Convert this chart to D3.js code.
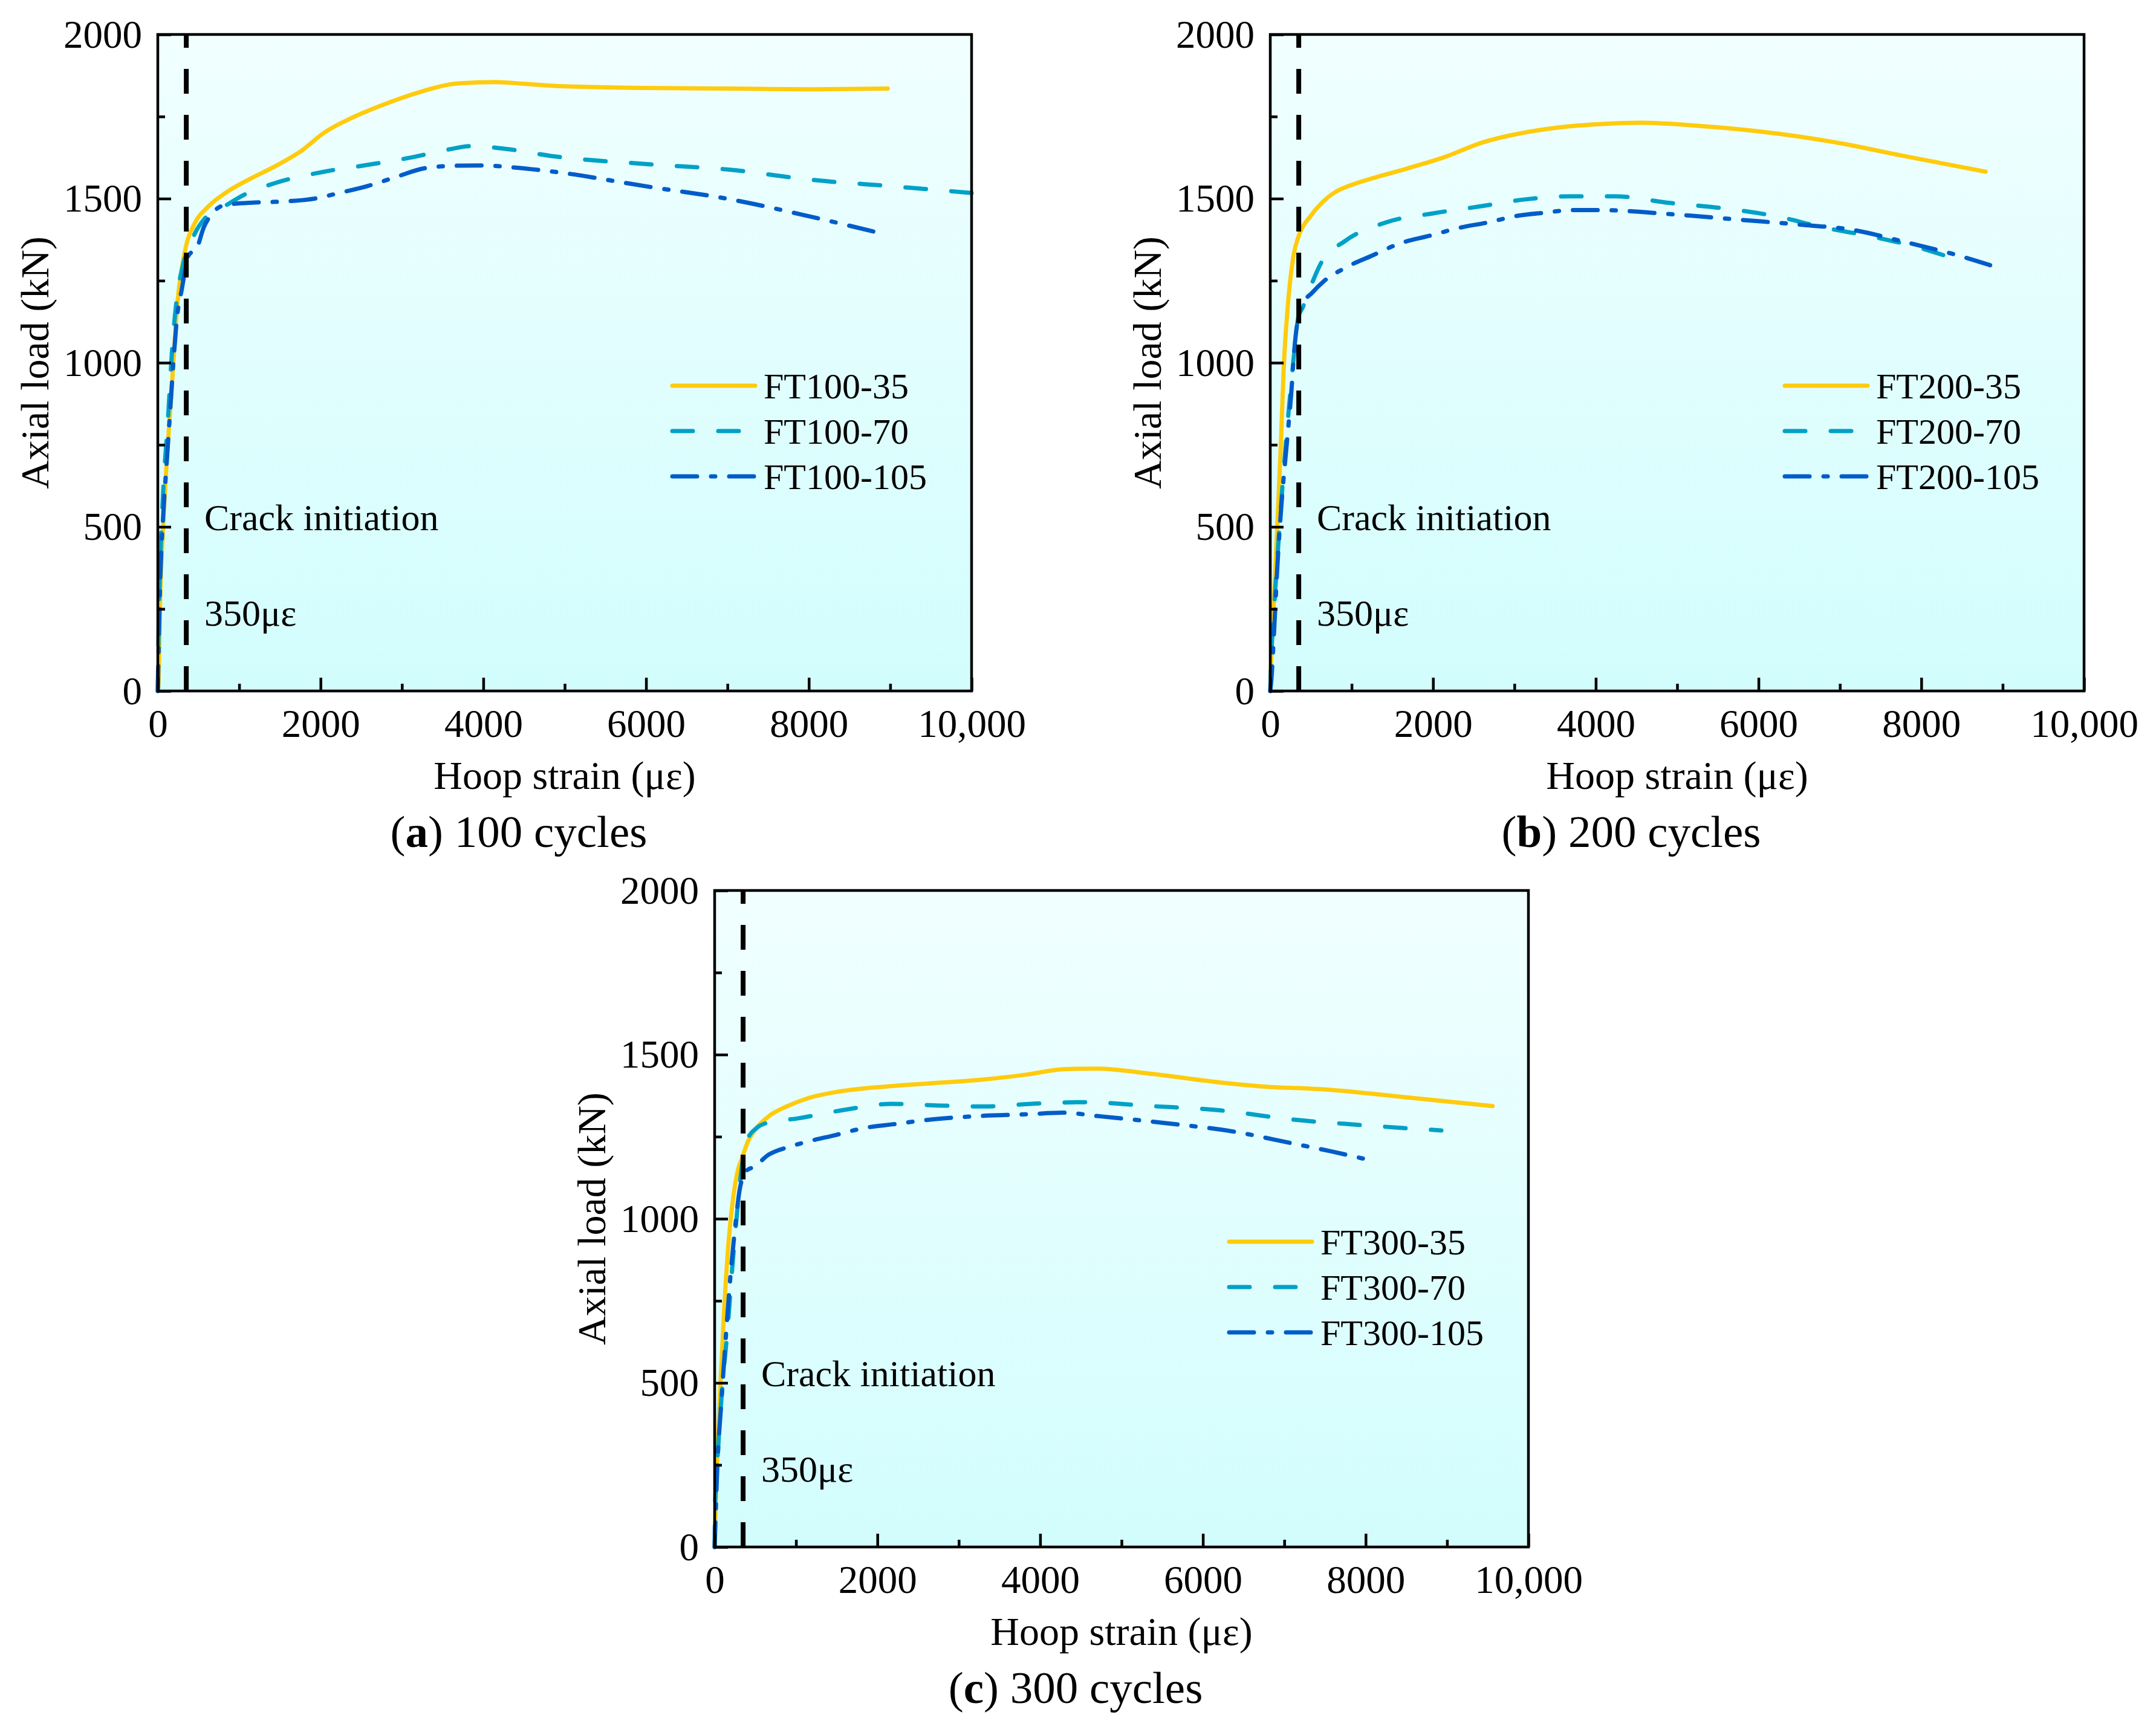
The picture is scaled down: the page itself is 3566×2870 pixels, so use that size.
<!DOCTYPE html>
<html>
<head>
<meta charset="utf-8">
<script src="https://cdn.jsdelivr.net/npm/d3@7"></script>
<style>
body { margin: 0; background: #fff; }
text { font-family: "Liberation Serif", "Times New Roman", serif; fill: #000; }
</style>
</head>
<body>
<div id="chart"></div>
<script>
/*** data: [hoop strain (με), axial load (kN)] ***/
var ft100_35 = [[0,0],[9,24],[28,268],[66,501],[108,692],[151,851],[194,1010],[236,1168],[293,1285],[350,1359],[450,1423],[621,1476],[849,1520],[1134,1560],[1476,1603],[1761,1645],[2040,1700],[2420,1750],[2760,1785],[3225,1825],[3650,1850],[4150,1855],[4490,1850],[5000,1842],[6010,1837],[7030,1835],[8040,1833],[8970,1835]];
var ft100_70 = [[0,0],[9,162],[28,374],[66,607],[123,819],[179,1052],[236,1200],[308,1296],[450,1391],[593,1444],[849,1481],[1048,1510],[1476,1550],[2046,1582],[2587,1603],[3128,1626],[3582,1650],[3850,1660],[4320,1650],[4830,1630],[6010,1605],[7030,1588],[8040,1557],[9050,1537],[10000,1517]];
var ft100_105 = [[0,0],[9,109],[28,321],[66,533],[108,692],[151,851],[194,1010],[236,1137],[293,1221],[379,1327],[479,1349],[564,1412],[650,1449],[835,1481],[1191,1488],[1533,1491],[1903,1499],[2245,1518],[2587,1539],[2929,1566],[3271,1592],[3641,1600],[4006,1601],[4320,1596],[4830,1583],[6010,1537],[7030,1498],[8040,1444],[8840,1397]];

var ft200_35 = [[0,0],[6,56],[43,268],[86,501],[129,745],[166,988],[214,1168],[286,1327],[357,1391],[486,1444],[629,1486],[800,1520],[971,1539],[1314,1566],[1686,1592],[2114,1624],[2620,1672],[3040,1697],[3550,1717],[4060,1727],[4560,1731],[5240,1722],[6000,1705],[6930,1672],[7780,1630],[8790,1582]];
var ft200_70 = [[0,0],[14,109],[57,289],[114,501],[171,692],[229,861],[286,1010],[343,1137],[400,1169],[514,1243],[629,1306],[914,1370],[1429,1428],[2000,1455],[2571,1476],[3114,1497],[3686,1507],[4229,1507],[4900,1487],[5580,1470],[6260,1444],[6760,1414],[7360,1386],[7950,1352],[8450,1313]];
var ft200_105 = [[0,0],[14,35],[43,162],[86,374],[143,586],[200,745],[257,904],[300,1052],[343,1137],[400,1179],[514,1213],[657,1248],[929,1290],[1257,1327],[1600,1364],[1943,1386],[2343,1412],[2686,1428],[3000,1446],[3371,1457],[3714,1465],[4057,1465],[4900,1453],[5750,1436],[6590,1419],[7100,1407],[7780,1369],[8450,1327],[9000,1285]];

var ft300_35 = [[0,0],[6,66],[29,250],[71,495],[114,709],[166,913],[229,1066],[286,1148],[343,1189],[400,1230],[514,1276],[686,1316],[886,1342],[1143,1367],[1543,1388],[2114,1403],[2686,1413],[3257,1423],[3829,1439],[4309,1456],[4700,1457],[5380,1441],[6220,1415],[6730,1403],[7490,1394],[8340,1374],[9560,1343]];
var ft300_70 = [[0,0],[6,128],[43,301],[100,505],[157,658],[214,842],[271,1005],[329,1148],[400,1240],[514,1276],[629,1291],[1029,1306],[1600,1332],[2171,1350],[2743,1345],[3314,1342],[3886,1350],[4530,1355],[5380,1343],[6220,1330],[7070,1303],[7910,1286],[8930,1269]];
var ft300_105 = [[0,0],[6,46],[29,219],[86,454],[143,658],[200,842],[257,985],[314,1097],[400,1148],[486,1158],[657,1194],[914,1219],[1143,1235],[1486,1255],[1829,1276],[2200,1288],[2686,1303],[3257,1313],[3829,1318],[4286,1323],[4700,1313],[5550,1291],[6390,1265],[7070,1231],[7580,1205],[8040,1179]];

var names100 = ["FT100-35", "FT100-70", "FT100-105"];
var names200 = ["FT200-35", "FT200-70", "FT200-105"];
var names300 = ["FT300-35", "FT300-70", "FT300-105"];

var xTicks = [0, 2000, 4000, 6000, 8000, 10000];
var xTickLabels = ["0", "2000", "4000", "6000", "8000", "10,000"];
var xMinor = [1000, 3000, 5000, 7000, 9000];
var yTicks = [0, 500, 1000, 1500, 2000];
var yTickLabels = ["0", "500", "1000", "1500", "2000"];
var yMinor = [250, 750, 1250, 1750];
var crackStrain = 350;

/*** styles ***/
var colors = ["#ffcb0d", "#00a1c7", "#005cc8"];
var dashes = [null, "34,42", "41,23,7,23"];
var lineW = 7;
var pw = 1346, ph = 1086;

var svg = d3.select("#chart").append("svg")
  .attr("width", 3566).attr("height", 2870);
svg.append("rect").attr("width", 3566).attr("height", 2870).attr("fill", "#fff");

var grad = svg.append("defs").append("linearGradient")
  .attr("id", "bg").attr("x1", 0).attr("y1", 0).attr("x2", 0).attr("y2", 1);
grad.append("stop").attr("offset", "0%").attr("stop-color", "#f1ffff");
grad.append("stop").attr("offset", "100%").attr("stop-color", "#d2fdfd");

var panels = [
  {left: 261, top: 57, tag: "a", label: " 100 cycles", series: [ft100_35, ft100_70, ft100_105], names: names100},
  {left: 2101, top: 57, tag: "b", label: " 200 cycles", series: [ft200_35, ft200_70, ft200_105], names: names200},
  {left: 1182, top: 1473, tag: "c", label: " 300 cycles", series: [ft300_35, ft300_70, ft300_105], names: names300}
];

panels.forEach(drawPanel);

function drawPanel(p) {
  var g = svg.append("g").attr("transform", "translate(" + p.left + "," + p.top + ")");
  var x = d3.scaleLinear().domain([0, 10000]).range([0, pw]);
  var y = d3.scaleLinear().domain([0, 2000]).range([ph, 0]);

  g.append("rect").attr("width", pw).attr("height", ph).attr("fill", "url(#bg)");

  var line = d3.line()
    .x(function(d) { return x(d[0]); })
    .y(function(d) { return y(d[1]); })
    .curve(d3.curveMonotoneX);

  g.selectAll("path.curve")
    .data(p.series)
    .enter()
    .append("path")
    .attr("class", "curve")
    .attr("d", line)
    .attr("fill", "none")
    .attr("stroke", function(d, i) { return colors[i]; })
    .attr("stroke-width", lineW)
    .attr("stroke-linecap", "round")
    .attr("stroke-linejoin", "round")
    .attr("stroke-dasharray", function(d, i) { return dashes[i]; });

  // crack initiation line, drawn from the bottom up
  g.append("line")
    .attr("x1", x(crackStrain)).attr("x2", x(crackStrain))
    .attr("y1", y(0)).attr("y2", y(2000))
    .attr("stroke", "#000").attr("stroke-width", 8)
    .attr("stroke-dasharray", "41,35");

  g.append("text").attr("x", 77).attr("y", 820).attr("font-size", 62).text("Crack initiation");
  g.append("text").attr("x", 77).attr("y", 978).attr("font-size", 62).text("350\u03bc\u03b5");

  // legend
  var leg = g.selectAll("g.leg")
    .data(p.names)
    .enter()
    .append("g")
    .attr("class", "leg")
    .attr("transform", function(d, i) { return "translate(848," + (581 + i * 75) + ")"; });
  leg.append("line")
    .attr("x1", 3).attr("x2", 140)
    .attr("stroke", function(d, i) { return colors[i]; })
    .attr("stroke-width", lineW)
    .attr("stroke-linecap", "round")
    .attr("stroke-dasharray", function(d, i) { return dashes[i]; });
  leg.append("text")
    .attr("x", 154).attr("y", 21)
    .attr("font-size", 60)
    .text(function(d) { return d; });

  // axes, ticks point inward
  g.append("g").attr("transform", "translate(0," + ph + ")")
    .call(d3.axisBottom(x).tickValues(xTicks).tickSize(-22).tickPadding(30)
      .tickFormat(function(d, i) { return xTickLabels[i]; }));
  g.append("g").attr("transform", "translate(0," + ph + ")")
    .call(d3.axisBottom(x).tickValues(xMinor).tickSize(-12).tickFormat(""));
  var yAxis = g.append("g")
    .call(d3.axisLeft(y).tickValues(yTicks).tickSize(-22).tickPadding(26)
      .tickFormat(function(d, i) { return yTickLabels[i]; }));
  g.append("g")
    .call(d3.axisLeft(y).tickValues(yMinor).tickSize(-12).tickFormat(""));

  g.selectAll(".domain").remove();
  g.selectAll(".tick line").attr("stroke", "#000").attr("stroke-width", 4.5);
  g.selectAll(".tick text")
    .attr("font-size", 65)
    .attr("font-family", "'Liberation Serif', 'Times New Roman', serif")
    .attr("fill", "#000");
  yAxis.selectAll(".tick text").attr("dy", "0.33em");

  g.append("rect").attr("width", pw).attr("height", ph)
    .attr("fill", "none").attr("stroke", "#000").attr("stroke-width", 4.5);

  // titles
  g.append("text")
    .attr("transform", "translate(-204," + (ph / 2) + ") rotate(-90)")
    .attr("text-anchor", "middle").attr("dy", "0.35em")
    .attr("font-size", 66)
    .text("Axial load (kN)");
  g.append("text")
    .attr("x", pw / 2).attr("y", ph + 162)
    .attr("text-anchor", "middle")
    .attr("font-size", 66)
    .text("Hoop strain (\u03bc\u03b5)");

  var cap = g.append("text")
    .attr("x", pw / 2 - 76).attr("y", ph + 258)
    .attr("text-anchor", "middle")
    .attr("font-size", 75);
  cap.append("tspan").text("(");
  cap.append("tspan").attr("font-weight", "bold").text(p.tag);
  cap.append("tspan").text(")" + p.label);
}
</script>
</body>
</html>
